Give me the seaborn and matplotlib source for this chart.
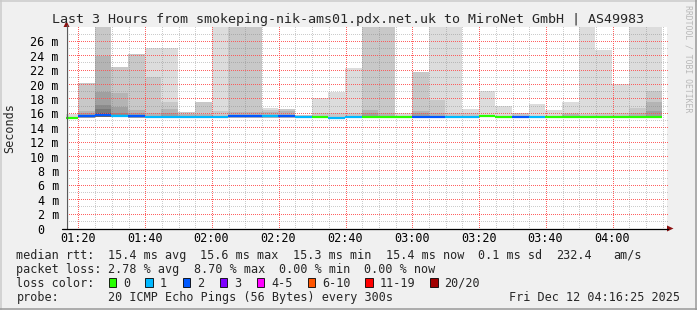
import numpy as np
import pandas as pd
import matplotlib
matplotlib.use("Agg")
import matplotlib.pyplot as plt
import seaborn as sns
from matplotlib.lines import Line2D
from matplotlib.patches import Rectangle, Polygon
from matplotlib.transforms import IdentityTransform

nan = np.nan

# ---------------- data ----------------
bar_start = ["01:15", "01:20", "01:25", "01:30", "01:35", "01:40", "01:45", "01:50", "01:55",
             "02:00", "02:05", "02:10", "02:15", "02:20", "02:25", "02:30", "02:35", "02:40",
             "02:45", "02:50", "02:55", "03:00", "03:05", "03:10", "03:15", "03:20", "03:25",
             "03:30", "03:35", "03:40", "03:45", "03:50", "03:55", "04:00", "04:05", "04:10"]

median_ms = [15.39, 15.57, 15.70, 15.62, 15.57, 15.55, 15.55, 15.55, 15.55, 15.55, 15.57, 15.57,
             15.57, 15.57, 15.44, 15.44, 15.39, 15.44, 15.44, 15.44, 15.44, 15.44, 15.44, 15.44,
             15.44, 15.58, 15.44, 15.44, 15.44, 15.44, 15.44, 15.44, 15.44, 15.44, 15.44, 15.44]

lost_pings = [0, 2, 2, 1, 2, 1, 1, 1, 1, 1, 2, 2, 1, 2, 1, 0, 1, 1,
              0, 0, 0, 2, 2, 1, 1, 0, 0, 2, 1, 0, 0, 0, 0, 0, 0, 0]

smoke_min = [15.25, 15.4, 15.5, 15.45, 15.4, 15.4, 15.4, 15.4, 15.4, 15.4, 15.4, 15.4,
             15.4, 15.4, 15.3, 15.3, 15.25, 15.3, 15.3, 15.3, 15.3, 15.3, 15.3, 15.3,
             15.3, 15.45, 15.3, 15.3, 15.3, 15.3, 15.3, 15.3, 15.3, 15.3, 15.3, 15.3]

# index of the lightest grey used by the outermost smoke band of each step
smoke_shade = [0, 1, 1, 1, 1, 0, 0, 1, 1, 0, 1, 1, 0, 1, 1, 0, 0, 0,
               1, 1, 0, 1, 0, 0, 0, 0, 0, 1, 0, 0, 0, 0, 0, 0, 0, 0]

smoke_band0 = [15.9, 20.2, 28.5, 22.4, 24.2, 25.0, 25.0, 16.15, 17.5, 28.5, 28.5, 28.5,
               16.7, 16.6, 15.8, 18.1, 19.0, 22.3, 28.5, 28.5, 16.1, 21.8, 28.5, 28.5,
               16.6, 19.1, 17.05, 16.0, 17.3, 16.5, 17.6, 28.5, 24.8, 20.0, 28.5, 28.5]
smoke_band1 = [nan, 16.3, 24.0, 18.8, 16.5, 21.0, 17.5, 15.85, 15.9, 16.3, 16.2, 16.2,
               16.5, 16.3, nan, 16.0, 16.0, 16.0, 16.5, 16.0, nan, 16.3, 17.9, 16.0,
               16.1, nan, nan, nan, nan, nan, 16.1, 15.9, 16.0, 16.0, 16.75, 19.15]
smoke_band2 = [nan, 16.0, 19.0, 16.9, 16.1, 16.0, 16.6, nan, nan, nan, nan, nan,
               16.2, nan, nan, nan, nan, nan, 16.0, nan, nan, 16.0, 16.0, nan,
               nan, nan, nan, nan, nan, nan, 15.9, nan, nan, nan, 16.0, 17.6]
smoke_band3 = [nan, nan, 17.2, 16.1, nan, nan, 16.1, nan, nan, nan, nan, nan,
               nan, nan, nan, nan, nan, nan, nan, nan, nan, nan, nan, nan,
               nan, nan, nan, nan, nan, nan, nan, nan, nan, nan, nan, 16.3]
smoke_band4 = [nan, nan, 16.6, nan, nan, nan, nan, nan, nan, nan, nan, nan,
               nan, nan, nan, nan, nan, nan, nan, nan, nan, nan, nan, nan,
               nan, nan, nan, nan, nan, nan, nan, nan, nan, nan, nan, nan]
smoke_band5 = [nan, nan, 16.0, nan, nan, nan, nan, nan, nan, nan, nan, nan,
               nan, nan, nan, nan, nan, nan, nan, nan, nan, nan, nan, nan,
               nan, nan, nan, nan, nan, nan, nan, nan, nan, nan, nan, nan]

loss_labels = ["0", "1", "2", "3", "4-5", "6-10", "11-19", "20/20"]
loss_colors = ["#26ff00", "#00b8ff", "#0059ff", "#7e00ff", "#ff00ff", "#ff5500", "#ff0000", "#a10000"]

x_tick_labels = ["01:20", "01:40", "02:00", "02:20", "02:40", "03:00", "03:20", "03:40", "04:00"]
y_tick_values = [0, 2, 4, 6, 8, 10, 12, 14, 16, 18, 20, 22, 24, 26]
y_tick_labels = ["0  ", "2 m", "4 m", "6 m", "8 m", "10 m", "12 m", "14 m", "16 m",
                 "18 m", "20 m", "22 m", "24 m", "26 m"]
view_start, view_end = "01:16:25", "04:16:25"

title = "Last 3 Hours from smokeping-nik-ams01.pdx.net.uk to MiroNet GmbH | AS49983"

# ---------------- figure ----------------
sns.set_theme(style="white")
MONO = "DejaVu Sans Mono"
plt.rcParams["font.family"] = [MONO]

W, H = 697, 310
fig = plt.figure(figsize=(W / 100, H / 100), dpi=100, facecolor="#f0f0f0")


def fx(x):
    return x / W


def fy(y):
    return 1 - y / H


ax_l, ax_r, ax_t, ax_b = 66, 667, 26.9, 228.5
ax = fig.add_axes([fx(ax_l), fy(ax_b), (ax_r - ax_l) / W, (ax_b - ax_t) / H])
ax.set_facecolor("white")
for s in ax.spines.values():
    s.set_visible(False)


def to_min(s):
    return pd.to_timedelta(s if s.count(":") == 2 else s + ":00").total_seconds() / 60


starts = np.array([to_min(s) for s in bar_start])
step = 5.0
n = len(starts)
smin = np.asarray(smoke_min, float)

greys = ["#dcdcdc", "#c8c8c8", "#b4b4b4", "#a0a0a0", "#8c8c8c", "#787878", "#646464"]
bands = [smoke_band0, smoke_band1, smoke_band2, smoke_band3, smoke_band4, smoke_band5]
for j, band in enumerate(bands):
    b = np.asarray(band, float)
    ok = np.isfinite(b)
    idx = np.where(ok)[0]
    cols = [greys[min(smoke_shade[i] + j, len(greys) - 1)] for i in idx]
    ax.bar(starts[ok], b[ok] - smin[ok], bottom=smin[ok], width=step, align="edge",
           color=cols, linewidth=0, zorder=1)

# median line, coloured by packet loss (seaborn)
loss_cls = [loss_labels[k] for k in lost_pings]
seg = pd.DataFrame({
    "t": np.concatenate([starts, starts + step]),
    "ms": np.concatenate([median_ms, median_ms]),
    "seg": np.tile(np.arange(n), 2),
    "loss": loss_cls + loss_cls,
})
palette = dict(zip(loss_labels, loss_colors))
sns.lineplot(data=seg, x="t", y="ms", hue="loss", units="seg", estimator=None,
             palette=palette, linewidth=1.6, legend=False, ax=ax, zorder=4)
for ln in ax.lines:
    ln.set_solid_capstyle("butt")

ax.set_xlim(to_min(view_start), to_min(view_end))
ax.set_ylim(0, 28)
ax.set_xlabel("")
ax.set_ylabel("")
ax.grid(False)

xt = [to_min(s) for s in x_tick_labels]
x_minor = np.arange(xt[0], to_min(view_end), step)
y_minor = np.arange(1, 28, 1)
ax.set_xticks(xt)
ax.set_xticklabels(x_tick_labels)
ax.set_xticks(x_minor, minor=True)
ax.set_yticks(y_tick_values)
ax.set_yticklabels(y_tick_labels)
ax.set_yticks(y_minor, minor=True)

RED, RED_A = "#ff5050", 0.9
GRY, GRY_A = "#808080", 0.40

ax.tick_params(axis="x", which="major", direction="out", length=1.5, width=0.72,
               color="#f08080", pad=0.8, labelsize=8.5)
ax.tick_params(axis="x", which="minor", direction="out", length=1.5, width=0.72,
               color="#cccccc")
ax.tick_params(axis="y", which="major", direction="out", length=2.9, width=0.72,
               color="#f08080", pad=2.2, labelsize=8.5)
ax.tick_params(axis="y", which="minor", direction="out", length=2.9, width=0.72,
               color="#cccccc")
for lab in ax.get_xticklabels() + ax.get_yticklabels():
    lab.set_family(MONO)
    lab.set_color("black")

# rrdtool-style 1px dotted grid, drawn with single-pixel markers over the smoke
td = ax.transData
xl = ax.get_xlim()
px0, py0 = td.transform((xl[0], 0))
px1, py1 = td.transform((xl[1], 28))
row_px = np.arange(np.floor(px0) + 1.5, px1, 2)
col_px = np.arange(np.floor(py0) + 1.5, py1, 2)
idt = IdentityTransform()
for yv in y_minor:
    yp = np.floor(td.transform((xl[0], yv))[1]) + 0.5
    major = yv in y_tick_values
    ax.plot(row_px, np.full_like(row_px, yp), ",", color=RED if major else GRY,
            alpha=RED_A if major else GRY_A, transform=idt, zorder=2)
for xv in x_minor:
    xp = np.floor(td.transform((xv, 0))[0]) + 0.5
    major = any(abs(xv - m) < 1e-6 for m in xt)
    ax.plot(np.full_like(col_px, xp), col_px, ",", color=RED if major else GRY,
            alpha=RED_A if major else GRY_A, transform=idt, zorder=2)

# axis lines with arrows
fig.add_artist(Line2D([fx(66.5), fx(66.5)], [fy(228.5), fy(25)], color="#5a5a5a", lw=0.9))
fig.add_artist(Line2D([fx(62), fx(668)], [fy(228.5), fy(228.5)], color="black", lw=0.9))
fig.add_artist(Polygon([(fx(63.5), fy(27)), (fx(69.5), fy(27)), (fx(66.5), fy(21))],
                       closed=True, color="#8b1010", lw=0))
fig.add_artist(Polygon([(fx(667), fy(225.5)), (fx(667), fy(231.5)), (fx(673.5), fy(228.5))],
                       closed=True, color="#8b1010", lw=0))

# frame
fig.add_artist(Line2D([0, 1], [fy(0.75), fy(0.75)], color="#cbcbcb", lw=1.1))
fig.add_artist(Line2D([fx(0.75), fx(0.75)], [0, 1], color="#cbcbcb", lw=1.1))
fig.add_artist(Line2D([0, 1], [fy(H - 0.75), fy(H - 0.75)], color="#999999", lw=1.1))
fig.add_artist(Line2D([fx(W - 0.75), fx(W - 0.75)], [0, 1], color="#999999", lw=1.1))

# titles
fig.text(fx(348), fy(23.2), title, ha="center", va="baseline", size=9.6, family=MONO)
fig.text(fx(10), fy(128), "Seconds", ha="center", va="center", rotation=90, size=8.5, family=MONO)
fig.text(fx(688), fy(5), "RRDTOOL / TOBI OETIKER", ha="center", va="top", rotation=270,
         size=5.9, family=MONO, color="#b8b8b8")

# legend rows
row_y = [258.7, 272.7, 286.8, 300.8]


def put(x, row, s, **kw):
    fig.text(fx(x), fy(row_y[row]), s, ha=kw.pop("ha", "left"), va="baseline",
             size=8.5, family=MONO, **kw)


put(16.4, 0, "median rtt:")
put(108.0, 0, "15.4 ms avg")
put(200.5, 0, "15.6 ms max")
put(293.3, 0, "15.3 ms min")
put(386.0, 0, "15.4 ms now")
put(478.5, 0, "0.1 ms sd")
put(556.5, 0, "232.4")
put(613.5, 0, "am/s")

put(16.4, 1, "packet loss:")
put(108.0, 1, "2.78 % avg")
put(194.5, 1, "8.70 % max")
put(279.0, 1, "0.00 % min")
put(364.4, 1, "0.00 % now")

put(16.4, 2, "loss color:")
sq_x = [108.9, 145.3, 182.7, 220.0, 256.9, 307.6, 365.3, 430.2]
for x0, lab, col in zip(sq_x, loss_labels, loss_colors):
    fig.add_artist(Rectangle((fx(x0), fy(286.7)), 7.5 / W, 9 / H, facecolor=col,
                             edgecolor="black", lw=0.6, transform=fig.transFigure))
    put(x0 + 14.2, 2, lab)

put(16.4, 3, "probe:")
put(108.0, 3, "20 ICMP Echo Pings (56 Bytes) every 300s")
put(680.0, 3, "Fri Dec 12 04:16:25 2025", ha="right")

fig.savefig("out.png", dpi=100, facecolor=fig.get_facecolor())
